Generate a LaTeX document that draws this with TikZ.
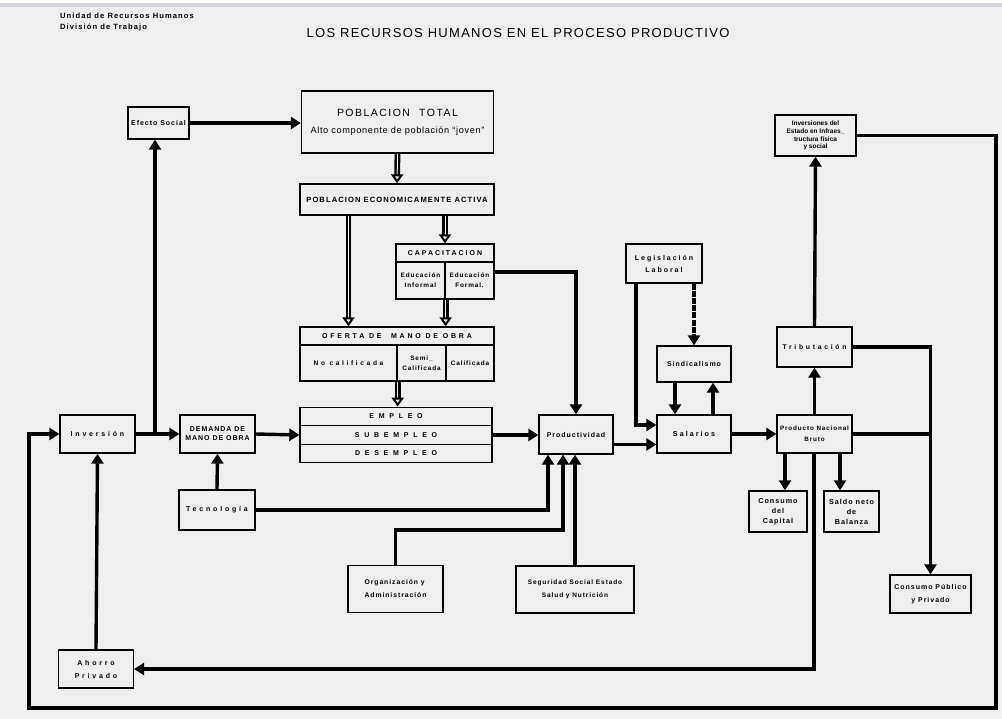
\documentclass[tikz,border=0pt]{standalone}
\usepackage{fontspec}
\setmainfont{Liberation Sans}
\newfontfamily\leve{Liberation Sans}[LetterSpace=7]
\newfontfamily\espaciada{Liberation Sans}[LetterSpace=14]
\newfontfamily\media{Liberation Sans}[LetterSpace=28]
\newfontfamily\ancha{Liberation Sans}[LetterSpace=40]
\newfontfamily\titulo{Liberation Sans}[LetterSpace=10]
\usetikzlibrary{arrows.meta}
\definecolor{fondo}{HTML}{EFEFEF}
\definecolor{banda}{HTML}{D3D6DB}

\begin{document}
\begin{tikzpicture}[x=1pt, y=-1pt,
    caja/.style={draw, line width=1.3pt, inner sep=1pt, align=center, font=\espaciada\fontsize{7}{9}\selectfont\bfseries},
    celda/.style={caja, font=\espaciada\fontsize{6.4}{10}\selectfont\bfseries},
    abierta/.style={font=\ancha\fontsize{7}{11}\selectfont\bfseries},
    flecha/.style={-{Triangle[width=12pt,length=10pt]}, line width=3.4pt},
    linea/.style={line width=3.4pt},
    hueco/.style={double=fondo, double distance=1pt, line width=2.4pt, -{Triangle[open,width=12pt,length=9pt,line width=2pt,fill=fondo]}}
]
\useasboundingbox (0,0) rectangle (1002,719);
\fill[fondo] (0,0) rectangle (1002,719);
\fill[white] (0,0) rectangle (1002,3);
\fill[banda] (0,3) rectangle (1002,7.5);

% encabezado
\node[anchor=west, inner sep=0pt, font=\espaciada\fontsize{7.6}{11}\selectfont\bfseries, align=left] (unidad) at (60,22.5) {Unidad de Recursos Humanos\\División de Trabajo};
\node[font=\titulo\fontsize{13}{14}\selectfont] (titulo) at (518,33) {LOS RECURSOS HUMANOS EN EL PROCESO PRODUCTIVO};

% cajas
\node[caja, minimum width=61, minimum height=32] (efecto) at (158.5,123) {Efecto Social};
\node[caja, text width=190, minimum height=62, font=\leve\fontsize{9.2}{17}\selectfont] (pobtot) at (397.5,122) {{\espaciada\fontsize{10.5}{17}\selectfont POBLACION\ \ \ TOTAL}\\Alto componente de población \textquotedblleft joven\textquotedblright};
\node[caja, minimum width=194, minimum height=31, font=\espaciada\fontsize{7.6}{9}\selectfont\bfseries] (pea) at (397,199.5) {POBLACION ECONOMICAMENTE ACTIVA};
\node[caja, font=\media\fontsize{7}{11}\selectfont\bfseries, minimum width=98, minimum height=18] (capH) at (445,253) {CAPACITACION};
\node[celda, minimum width=49, minimum height=37] (capInf) at (420.5,280.5) {Educación\\Informal};
\node[celda, minimum width=49, minimum height=37] (capFor) at (469.5,280.5) {Educación\\Formal.};
\node[caja, abierta, minimum width=194, minimum height=18] (ofH) at (397,336) {OFERTA DE\ \ MANO DE OBRA};
\node[celda, font=\ancha\fontsize{6.6}{10}\selectfont\bfseries, minimum width=97, minimum height=36] (ofNo) at (348.5,363) {No calificada};
\node[celda, minimum width=49, minimum height=36] (ofSemi) at (421.5,363) {Semi\_\\Calificada};
\node[celda, minimum width=48, minimum height=36] (ofCal) at (470,363) {Calificada};
\node[caja, abierta, minimum width=192, minimum height=18.5] (empleo) at (396,416.5) {E M P L E O};
\node[caja, abierta, minimum width=192, minimum height=18.5] (subempleo) at (396,435) {S U B E M P L E O};
\node[caja, abierta, minimum width=192, minimum height=18.5] (desempleo) at (396,453.5) {D E S E M P L E O};
\node[caja, minimum width=74, minimum height=39] (product) at (576,434.5) {Productividad};
\node[caja, abierta, minimum width=75, minimum height=38] (inversion) at (97.5,434) {Inversión};
\node[caja, minimum width=75, minimum height=38] (demanda) at (217.5,434) {DEMANDA DE\\MANO DE OBRA};
\node[caja, abierta, minimum width=76, minimum height=40] (tecno) at (217,510) {Tecnología};
\node[caja, minimum width=95, minimum height=47, align=left, font=\espaciada\fontsize{6.8}{13}\selectfont\bfseries] (organiz) at (395.5,589) {Organización y\\Administración};
\node[caja, minimum width=118, minimum height=47, font=\espaciada\fontsize{6.5}{13.5}\selectfont\bfseries] (segur) at (575,589.5) {Seguridad Social Estado\\Salud y Nutrición};
\node[caja, minimum width=76, minimum height=39, font=\media\fontsize{7}{12}\selectfont\bfseries] (legis) at (664,263.5) {Legislación\\Laboral};
\node[caja, minimum width=74, minimum height=36, font=\espaciada\fontsize{7}{9}\selectfont\bfseries] (sindic) at (694,364) {Sindicalismo};
\node[caja, minimum width=74, minimum height=38, font=\media\fontsize{7.2}{9}\selectfont\bfseries] (salarios) at (694,434) {Salarios};
\node[caja, minimum width=75, minimum height=40, font=\ancha\fontsize{6.8}{9}\selectfont\bfseries] (tribut) at (814.5,347) {Tributación};
\node[caja, minimum width=75, minimum height=38, font=\espaciada\fontsize{6.3}{11}\selectfont\bfseries] (pnb) at (814.5,434) {Producto Nacional\\Bruto};
\node[caja, minimum width=81, minimum height=41, font=\fontsize{6.5}{7.7}\selectfont\bfseries] (invest) at (815.5,135.5) {Inversiones del\\Estado en Infraes\_\\tructura física\\y social};
\node[caja, minimum width=58, minimum height=41, font=\espaciada\fontsize{7.2}{10}\selectfont\bfseries] (capital) at (778,511.5) {Consumo\\del\\Capital};
\node[caja, minimum width=55, minimum height=41, font=\espaciada\fontsize{7.2}{10}\selectfont\bfseries] (saldo) at (851.5,511.5) {Saldo neto\\de\\Balanza};
\node[caja, minimum width=81, minimum height=38, font=\espaciada\fontsize{7}{13}\selectfont\bfseries] (conspub) at (930.5,594) {Consumo Público\\y Privado};
\node[caja, minimum width=75, minimum height=38, font=\ancha\fontsize{7}{13}\selectfont\bfseries] (ahorro) at (96,669) {Ahorro\\Privado};

% puntos de quiebre
\coordinate (ramaInv) at (155,434);
\coordinate (codoOrg) at (563,530);
\coordinate (pnbA) at (785,453);
\coordinate (pnbB) at (840,453);
\coordinate (pnbC) at (814,453);
\coordinate (esqA) at (996,708);
\coordinate (esqB) at (29,708);

% flechas huecas
\draw[hueco] (pobtot.south) -- (pea.north);
\draw[hueco] (pea.south -| ofNo) -- (ofNo |- ofH.north);
\draw[hueco] (pea.south -| capH) -- (capH.north);
\draw[hueco] (capInf.south east) -- (capInf.south east |- ofH.north);
\draw[hueco] (ofNo.south east) -- (ofNo.south east |- empleo.north);

% flechas
\draw[flecha] (inversion.east) -- (demanda.west);
\draw[flecha] (ramaInv) -- (ramaInv |- efecto.south);
\draw[flecha] (efecto.east) -- (efecto.east -| pobtot.west);
\draw[flecha] ([yshift=8.5pt]capFor.east) -| (product.north);
\draw[flecha] (demanda.east) -- (subempleo.west);
\draw[flecha] (subempleo.east) -- (subempleo.east -| product.west);
\draw[flecha] ([yshift=-10pt]product.east) -- ([yshift=-10pt]product.east -| salarios.west);
\draw[flecha] ([xshift=-28pt]legis.south) |- ([yshift=9pt]salarios.west);
\draw[flecha, dash pattern=on 6pt off 1.2pt] (sindic.north |- legis.south) -- (sindic.north);
\draw[flecha] ([xshift=-19pt]sindic.south) -- ([xshift=-19pt]salarios.north);
\draw[flecha] ([xshift=19pt]salarios.north) -- ([xshift=19pt]sindic.south);
\draw[flecha] (salarios.east) -- (pnb.west);
\draw[flecha] (pnb.north) -- (tribut.south);
\draw[flecha] (tribut.north) -- (invest.south);
\draw[flecha] (tribut.east) -| (conspub.north);
\draw[linea] (pnb.east) -- (pnb.east -| conspub.north);
\draw[flecha] (pnbA) -- (pnbA |- capital.north);
\draw[flecha] (pnbB) -- (pnbB |- saldo.north);
\draw[flecha] (pnbC) |- (ahorro.east);
\draw[flecha] (ahorro.north) -- (inversion.south);
\draw[flecha] (invest.east) -| (esqA) -- (esqB) |- (inversion.west);
\draw[flecha] (tecno.north) -- (demanda.south);
\draw[flecha] (tecno.east) -| ([xshift=-28pt]product.south);
\draw[flecha] (organiz.north) |- (codoOrg) -- (codoOrg |- product.south);
\draw[flecha] (segur.north) -- (segur.north |- product.south);
\end{tikzpicture}
\end{document}
